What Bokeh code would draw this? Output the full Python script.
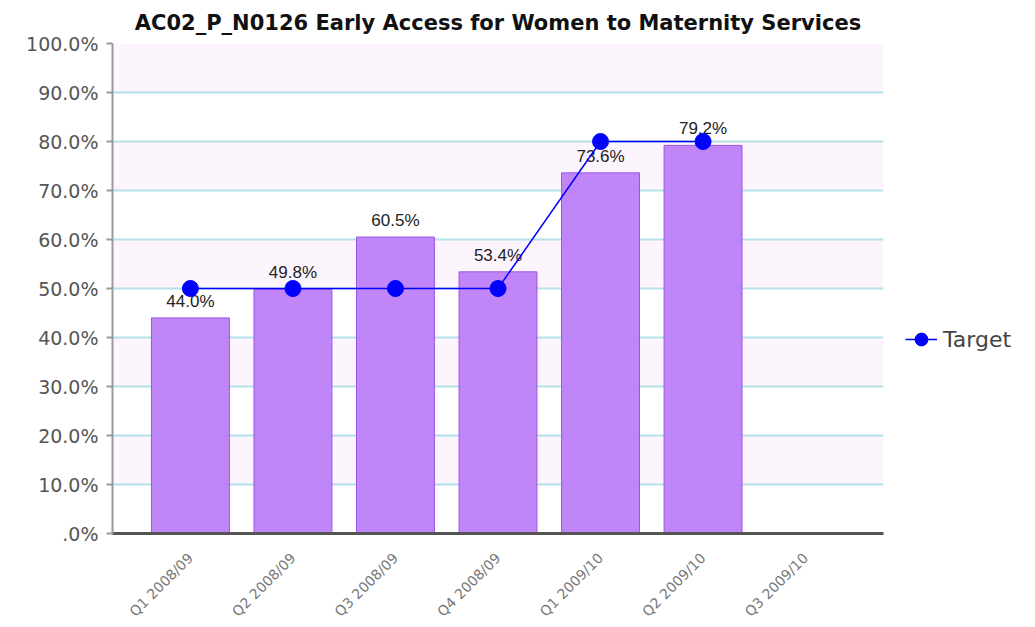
from bokeh.plotting import figure
from bokeh.models import (ColumnDataSource, FactorRange, Range1d, SingleIntervalTicker,
                          Legend, LegendItem)
from bokeh.embed import file_html
from bokeh.resources import INLINE

categories = ["Q1 2008/09", "Q2 2008/09", "Q3 2008/09", "Q4 2008/09",
              "Q1 2009/10", "Q2 2009/10", "Q3 2009/10"]
actual = [44.0, 49.8, 60.5, 53.4, 73.6, 79.2]
target = [50, 50, 50, 50, 80, 80]
y_ticks = [0, 10, 20, 30, 40, 50, 60, 70, 80, 90, 100]
y_tick_labels = [".0%", "10.0%", "20.0%", "30.0%", "40.0%", "50.0%",
                 "60.0%", "70.0%", "80.0%", "90.0%", "100.0%"]
title_text = "AC02_P_N0126 Early Access for Women to Maternity Services"

n = len(actual)
bar_src = ColumnDataSource(dict(
    cat=categories[:n], val=actual,
    lab=["%.1f%%" % v for v in actual]))
tgt_src = ColumnDataSource(dict(cat=categories[:len(target)], val=target))

FONT = "DejaVu Sans"

p = figure(x_range=FactorRange(*categories, range_padding=0.26,
                               range_padding_units="absolute"),
           y_range=Range1d(0, 100),
           frame_width=771, frame_height=490,
           min_border_left=112, min_border_top=43, min_border_bottom=86,
           min_border_right=10,
           output_backend="svg", toolbar_location=None,
           title=title_text)
p.outline_line_color = None
p.background_fill_color = "white"

p.title.align = "center"
p.title.text_font = FONT
p.title.text_font_size = "21px"
p.title.text_font_style = "bold"
p.title.text_color = "#111111"
p.title.standoff = 17

# grid
p.xgrid.grid_line_color = None
p.ygrid.grid_line_color = "#b3e2ea"
p.ygrid.grid_line_width = 2
p.ygrid.band_fill_color = "#fcf5fd"
p.ygrid.band_fill_alpha = 1.0

# y axis
p.yaxis.ticker = SingleIntervalTicker(interval=10, num_minor_ticks=0)
p.yaxis.major_label_overrides = {t: l for t, l in zip(y_ticks, y_tick_labels)}
p.yaxis.axis_line_color = "#999999"
p.yaxis.axis_line_width = 2
p.yaxis.major_tick_line_color = "#999999"
p.yaxis.major_tick_line_width = 2
p.yaxis.major_tick_out = 6
p.yaxis.major_tick_in = 0
p.yaxis.minor_tick_line_color = None
p.yaxis.major_label_text_font = FONT
p.yaxis.major_label_text_font_size = "19px"
p.yaxis.major_label_text_color = "#555555"
p.yaxis.major_label_standoff = 8

# x axis
p.xaxis.axis_line_color = "#555555"
p.xaxis.axis_line_width = 3
p.xaxis.major_tick_line_color = None
p.xaxis.minor_tick_line_color = None
p.xaxis.major_label_orientation = 0.785
p.xaxis.major_label_text_font = FONT
p.xaxis.major_label_text_font_size = "14px"
p.xaxis.major_label_text_color = "#777777"
p.xaxis.major_label_standoff = 16

# bars
p.vbar(x="cat", top="val", width=0.76, source=bar_src,
       fill_color="#bd7ef7", fill_alpha=0.95,
       line_color="#9b55e6", line_width=1)

# value labels
p.text(x="cat", y="val", text="lab", source=bar_src,
       text_align="center", text_baseline="bottom", y_offset=-7,
       text_font_size="17px", text_color="#222222")

# target
ln = p.line(x="cat", y="val", source=tgt_src, line_color="#0000ff", line_width=1.5)
sc = p.scatter(x="cat", y="val", source=tgt_src, size=16,
               fill_color="#0000ff", line_color="#0000ff")

legend = Legend(items=[LegendItem(label="Target", renderers=[ln, sc])],
                location=(22, 176), border_line_color=None,
                background_fill_alpha=0, glyph_width=32, glyph_height=36,
                label_text_font=FONT, label_text_font_size="22px",
                label_text_color="#444444", padding=4, margin=8,
                label_standoff=6)
p.add_layout(legend, "right")

open("out.html", "w").write(file_html(p, INLINE))
